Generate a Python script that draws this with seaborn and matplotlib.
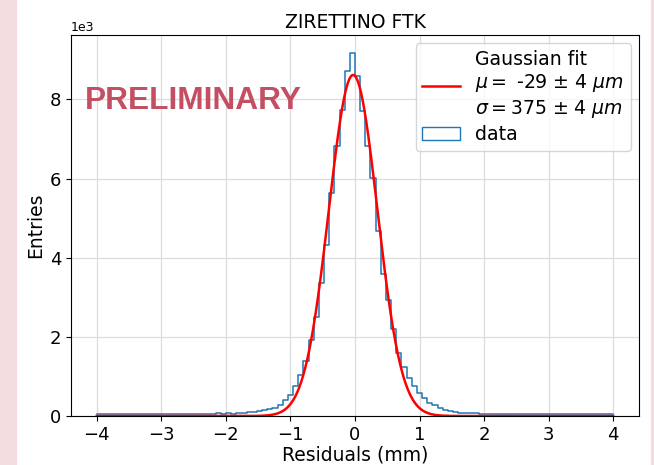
import numpy as np
import pandas as pd
import matplotlib
matplotlib.use("Agg")
import matplotlib.pyplot as plt
import seaborn as sns
from matplotlib.lines import Line2D
from matplotlib.patches import Patch, Rectangle

# --- data ---
bin_edges = [round(-4.0 + 0.08 * i, 2) for i in range(101)]   # 100 bins, 0.08 mm
counts = [
    45, 40, 42, 38, 40, 42, 40, 40, 42, 40,
    41, 40, 42, 40, 40, 42, 40, 42, 45, 42,
    45, 48, 55, 80, 50, 70, 60, 75, 85, 95,
    110, 130, 150, 175, 210, 290, 400, 520, 760, 1030,
    1390, 1910, 2510, 3360, 4310, 5640, 6835, 7745, 8730, 9170,
    8600, 7700, 6835, 6020, 4670, 3600, 2930, 2200, 1600, 1240,
    970, 760, 580, 450, 340, 270, 210, 150, 130, 100,
    75, 80, 80, 65, 60, 60, 45, 60, 55, 55,
    55, 55, 55, 55, 55, 55, 55, 40, 55, 55,
    55, 55, 40, 55, 55, 55, 55, 55, 40, 55,
]
# gaussian fit parameters (legend values, mm) and peak height
fit_mu = -0.029
fit_sigma = 0.375
fit_amp = 8620

edges = np.array(bin_edges)
centers = (edges[:-1] + edges[1:]) / 2
df = pd.DataFrame({'res': centers, 'n': counts})

xs = np.linspace(-4, 4, 801)
fit = pd.DataFrame({'x': xs, 'y': fit_amp * np.exp(-0.5 * ((xs - fit_mu) / fit_sigma) ** 2)})

fig = plt.figure(figsize=(6.54, 4.65), dpi=100)
ax = fig.add_axes([71/654, 1 - 416/465, (639 - 71)/654, (416 - 35)/465])

# pink side strips of the page
fig.patches.append(Rectangle((0, 0), 16/654, 1, transform=fig.transFigure, color='#f4dde1', zorder=-1))
fig.patches.append(Rectangle((651/654, 0), 3/654, 1, transform=fig.transFigure, color='#f4dde1', zorder=-1))

sns.histplot(data=df, x='res', weights='n', bins=bin_edges, element='step', fill=False,
             color='#1f77b4', linewidth=1.1, ax=ax)
sns.lineplot(data=fit, x='x', y='y', color='red', linewidth=1.8, ax=ax)

ax.set_xlim(-4.4, 4.4)
ax.set_ylim(0, 9630)
ax.set_xticks(range(-4, 5))
ax.ticklabel_format(axis='y', style='sci', scilimits=(3, 3))
ax.yaxis.get_offset_text().set_fontsize(9)
ax.tick_params(labelsize=13)
ax.grid(True, color='#dcdcdc', linewidth=0.9)
ax.set_axisbelow(True)

ax.set_title('ZIRETTINO FTK', fontsize=13.5, pad=5)
ax.set_xlabel('Residuals (mm)', fontsize=13.5, labelpad=1)
ax.set_ylabel('Entries', fontsize=13.5, labelpad=3)

ax.text(0.025, 0.827, 'PRELIMINARY', transform=ax.transAxes, fontsize=22.8,
        fontweight='bold', family='Liberation Sans', color='#c44e62', va='center', ha='left')

handles = [Line2D([], [], color='red', linewidth=1.8),
           Patch(facecolor='none', edgecolor='#1f77b4')]
labels = ['Gaussian fit\n$\\mu=$ -29 $\\pm$ 4 $\\mu m$\n$\\sigma=$375 $\\pm$ 4 $\\mu m$', 'data']
ax.legend(handles, labels, loc='upper right', fontsize=13.6, borderaxespad=0.45,
          labelspacing=0.3, borderpad=0.35)

fig.savefig('out.png', dpi=100)
